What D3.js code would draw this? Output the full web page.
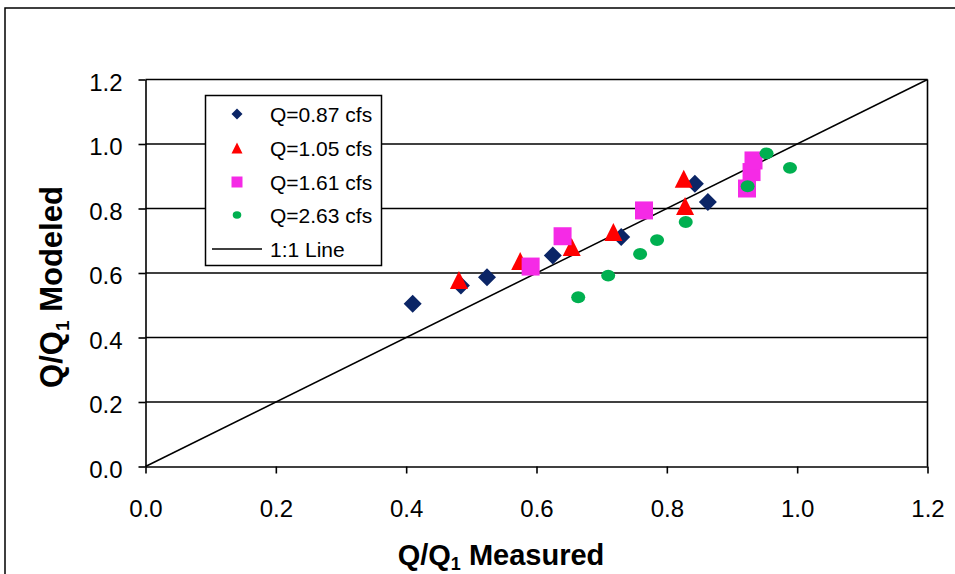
<!DOCTYPE html>
<html>
<head>
<meta charset="utf-8">
<script src="https://cdn.jsdelivr.net/npm/d3@7/dist/d3.min.js"></script>
<style>
  html, body { margin: 0; padding: 0; background: #fff; }
  svg text { font-family: "Liberation Sans", Arial, sans-serif; }
</style>
</head>
<body>
<svg id="chart" width="955" height="574"></svg>
<script>
// Measured vs. modeled normalized discharge, four flow rates
const measured087 = [0.410, 0.484, 0.524, 0.625, 0.730, 0.843, 0.863];
const modeled087  = [0.505, 0.561, 0.587, 0.654, 0.712, 0.877, 0.820];
const measured105 = [0.481, 0.575, 0.654, 0.718, 0.826, 0.828];
const modeled105  = [0.578, 0.637, 0.681, 0.727, 0.892, 0.808];
const measured161 = [0.591, 0.640, 0.765, 0.923, 0.930, 0.933];
const modeled161  = [0.620, 0.714, 0.794, 0.862, 0.913, 0.949];
const measured263 = [0.664, 0.710, 0.759, 0.785, 0.829, 0.924, 0.953, 0.989];
const modeled263  = [0.525, 0.592, 0.659, 0.702, 0.758, 0.869, 0.971, 0.926];

const seriesNames = ["Q=0.87 cfs", "Q=1.05 cfs", "Q=1.61 cfs", "Q=2.63 cfs"];
const lineName = "1:1 Line";
const xTicks = [0, 0.2, 0.4, 0.6, 0.8, 1.0, 1.2];
const yTicks = [0, 0.2, 0.4, 0.6, 0.8, 1.0, 1.2];
const oneToOne = [[0, 0], [1.2, 1.2]];

const series = [
  { name: seriesNames[0], xs: measured087, ys: modeled087, shape: "diamond",  color: "#0b2566" },
  { name: seriesNames[1], xs: measured105, ys: modeled105, shape: "triangle", color: "#ff0000" },
  { name: seriesNames[2], xs: measured161, ys: modeled161, shape: "square",   color: "#f52ae6" },
  { name: seriesNames[3], xs: measured263, ys: modeled263, shape: "circle",   color: "#00b050" }
];

const svg = d3.select("#chart");

// outer chart frame
svg.append("rect")
  .attr("x", 5).attr("y", 8).attr("width", 1000).attr("height", 1000)
  .attr("fill", "#fff").attr("stroke", "#000").attr("stroke-width", 1.5);

const x = d3.scaleLinear().domain([0, 1.2]).range([145.5, 927.5]);
const y = d3.scaleLinear().domain([0, 1.2]).range([466.5, 79.5]);

// horizontal gridlines
svg.append("g").selectAll("line")
  .data(yTicks.filter(v => v > 0))
  .join("line")
  .attr("x1", x(0)).attr("x2", x(1.2))
  .attr("y1", d => y(d)).attr("y2", d => y(d))
  .attr("stroke", "#000").attr("stroke-width", 1.6);

// right edge of plot area
svg.append("line")
  .attr("x1", x(1.2)).attr("x2", x(1.2))
  .attr("y1", y(1.2)).attr("y2", y(0))
  .attr("stroke", "#000").attr("stroke-width", 1.6);

// axes
const xAxis = svg.append("g")
  .attr("transform", `translate(0,${y(0)})`)
  .call(d3.axisBottom(x).tickValues(xTicks).tickFormat(d3.format(".1f"))
    .tickSizeInner(7).tickSizeOuter(0).tickPadding(26));
const yAxis = svg.append("g")
  .attr("transform", `translate(${x(0)},0)`)
  .call(d3.axisLeft(y).tickValues(yTicks).tickFormat(d3.format(".1f"))
    .tickSizeInner(7).tickSizeOuter(0).tickPadding(16));
[xAxis, yAxis].forEach(g => {
  g.select(".domain").attr("stroke", "#000").attr("stroke-width", 1.6);
  g.selectAll(".tick line").attr("stroke", "#000").attr("stroke-width", 1.6);
  g.selectAll(".tick text").attr("fill", "#000")
    .style("font-family", '"Liberation Sans", Arial, sans-serif')
    .style("font-size", "24px");
});
yAxis.selectAll(".tick text").attr("dy", "0.45em");

// 1:1 reference line
svg.append("path")
  .datum(oneToOne)
  .attr("d", d3.line().x(d => x(d[0])).y(d => y(d[1])))
  .attr("fill", "none").attr("stroke", "#000").attr("stroke-width", 1.5);

// marker path generator, centred on the marker's bounding box
function markerPath(shape, s) {
  const h = s / 2;
  switch (shape) {
    case "diamond":  return `M0,${-h}L${h},0L0,${h}L${-h},0Z`;
    case "triangle": return `M0,${-h}L${h},${h}L${-h},${h}Z`;
    case "square":   return `M${-h},${-h}H${h}V${h}H${-h}Z`;
  }
}

function drawMarker(g, shape, color, s) {
  if (shape === "circle") {
    g.append("ellipse").attr("rx", s * 0.39).attr("ry", s * 0.33).attr("fill", color);
  } else {
    g.append("path").attr("d", markerPath(shape, s)).attr("fill", color);
  }
}

// data points
series.forEach(sr => {
  const g = svg.append("g");
  sr.xs.forEach((v, i) => {
    const m = g.append("g").attr("transform", `translate(${x(v)},${y(sr.ys[i])})`);
    drawMarker(m, sr.shape, sr.color, 18);
  });
});

// legend
const legend = svg.append("g");
legend.append("rect")
  .attr("x", 205.5).attr("y", 95.5).attr("width", 176).attr("height", 170)
  .attr("fill", "#fff").attr("stroke", "#000").attr("stroke-width", 1.5);
const rowY = [114, 148, 182, 215, 249];
series.forEach((sr, i) => {
  const m = legend.append("g").attr("transform", `translate(237,${rowY[i]})`);
  drawMarker(m, sr.shape, sr.color, 11);
  legend.append("text").attr("x", 270).attr("y", rowY[i]).attr("dy", "0.36em")
    .style("font-size", "21px").attr("fill", "#000").text(sr.name);
});
legend.append("line")
  .attr("x1", 212).attr("x2", 262).attr("y1", rowY[4]).attr("y2", rowY[4])
  .attr("stroke", "#000").attr("stroke-width", 1.5);
legend.append("text").attr("x", 270).attr("y", rowY[4]).attr("dy", "0.36em")
  .style("font-size", "21px").attr("fill", "#000").text(lineName);

// axis titles
const xTitle = svg.append("text")
  .attr("x", 501).attr("y", 565)
  .attr("text-anchor", "middle")
  .style("font-size", "29px").style("font-weight", "bold").attr("fill", "#000");
xTitle.append("tspan").text("Q/Q");
xTitle.append("tspan").attr("dy", 5).style("font-size", "18px").text("1");
xTitle.append("tspan").attr("dy", -5).text(" Measured");

const yTitle = svg.append("text")
  .attr("transform", "translate(62,287) rotate(-90)")
  .attr("text-anchor", "middle")
  .style("font-size", "31px").style("font-weight", "bold").attr("fill", "#000");
yTitle.append("tspan").text("Q/Q");
yTitle.append("tspan").attr("dy", 7).style("font-size", "19px").text("1");
yTitle.append("tspan").attr("dy", -7).text(" Modeled");
</script>
</body>
</html>
